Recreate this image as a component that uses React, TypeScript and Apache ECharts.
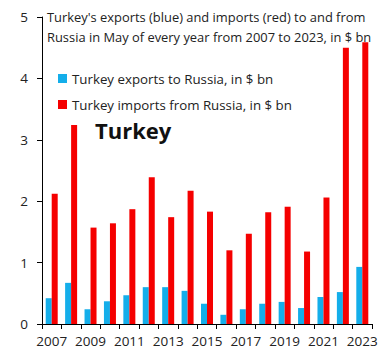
import React, { useEffect, useRef } from "react";
import * as echarts from "echarts";

const years = ["2007","2008","2009","2010","2011","2012","2013","2014","2015","2016","2017","2018","2019","2020","2021","2022","2023"];
const exportsRu = [0.42,0.67,0.24,0.37,0.47,0.60,0.60,0.54,0.33,0.15,0.24,0.33,0.36,0.26,0.44,0.52,0.93];
const importsRu = [2.12,3.24,1.57,1.64,1.87,2.39,1.74,2.17,1.83,1.20,1.47,1.82,1.91,1.18,2.06,4.50,4.59];
const titleText = "Turkey's exports (blue) and imports (red) to and from\nRussia in May of every year from 2007 to 2023, in $ bn";
const exportName = "Turkey exports to Russia, in $ bn";
const importName = "Turkey imports from Russia, in $ bn";

const FONT = "'Open Sans', 'Noto Sans', sans-serif";

export default function App() {
  const ref = useRef<HTMLDivElement>(null);
  useEffect(() => {
    const chart = echarts.init(ref.current!, null, { renderer: "svg" });
    chart.setOption({
      animation: false,
      backgroundColor: "#fff",
      textStyle: { fontFamily: FONT },
      title: {
        text: titleText,
        left: 42,
        top: 2,
        textStyle: { fontSize: 12.9, fontWeight: "normal", color: "#222", lineHeight: 20, fontFamily: FONT },
      },
      legend: {
        orient: "vertical",
        left: 53,
        top: 67,
        itemGap: 13,
        itemWidth: 9,
        itemHeight: 9,
        icon: "rect",
        textStyle: { fontSize: 13.3, color: "#222", fontFamily: FONT },
        data: [exportName, importName],
      },
      graphic: [
        {
          type: "text",
          left: 95,
          top: 119,
          style: { text: "Turkey", font: `bold 22px ${FONT}`, fill: "#111" },
        },
      ],
      grid: { left: 42, right: 12, top: 17, bottom: 36 },
      xAxis: {
        type: "category",
        data: years,
        axisLine: { lineStyle: { color: "#000" } },
        axisTick: { show: true, alignWithLabel: false, interval: 0, length: 5, lineStyle: { color: "#000" } },
        axisLabel: { interval: 1, color: "#222", fontSize: 13.5, margin: 10, fontFamily: FONT },
      },
      yAxis: {
        type: "value",
        min: 0,
        max: 5,
        interval: 1,
        splitLine: { show: false },
        axisLine: { show: true, lineStyle: { color: "#000" } },
        axisTick: { show: true, length: 5, lineStyle: { color: "#000" } },
        axisLabel: { color: "#222", fontSize: 13.5, margin: 14, fontFamily: FONT },
      },
      series: [
        {
          name: exportName,
          type: "bar",
          data: exportsRu,
          barWidth: 6,
          barGap: "0%",
          itemStyle: { color: "#14AEEA" },
        },
        {
          name: importName,
          type: "bar",
          data: importsRu,
          barWidth: 6,
          barGap: "0%",
          itemStyle: { color: "#F50000" },
        },
      ],
    });
    return () => chart.dispose();
  }, []);
  return <div ref={ref} style={{ width: 384, height: 360, position: "absolute", left: 0, top: 0 }} />;
}
